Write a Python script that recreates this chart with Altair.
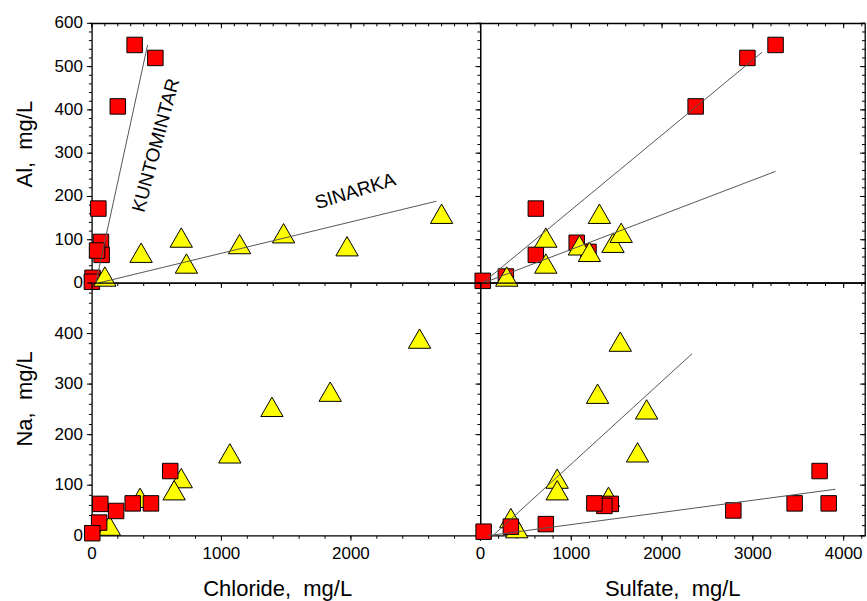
import altair as alt
import pandas as pd

# ---------------- data ----------------
# Top-left: Al vs Chloride
CL_AL_KUN_X = [330, 490, 200, 50, 70, 75, 40, 5, 0]
CL_AL_KUN_Y = [550, 520, 408, 172, 95, 65, 75, 12, 3]
CL_AL_SIN_X = [100, 380, 690, 730, 1140, 1480, 1970, 2700]
CL_AL_SIN_Y = [15, 70, 105, 45, 90, 115, 85, 160]
CL_AL_KUN_LINE_X = [30, 430]
CL_AL_KUN_LINE_Y = [0, 550]
CL_AL_SIN_LINE_X = [50, 2660]
CL_AL_SIN_LINE_Y = [0, 189]

# Top-right: Al vs Sulfate
SO_AL_KUN_X = [3250, 2940, 2370, 610, 610, 1060, 1190, 280, 25]
SO_AL_KUN_Y = [550, 520, 408, 172, 65, 93, 72, 15, 5]
SO_AL_SIN_X = [290, 720, 720, 1310, 1090, 1200, 1460, 1550]
SO_AL_SIN_Y = [15, 105, 45, 160, 87, 72, 93, 116]
SO_AL_KUN_LINE_X = [25, 3100]
SO_AL_KUN_LINE_Y = [0, 533]
SO_AL_SIN_LINE_X = [30, 3250]
SO_AL_SIN_LINE_Y = [0, 258]

# Bottom-left: Na vs Chloride
CL_NA_KUN_X = [605, 456, 315, 187, 65, 56, 3]
CL_NA_KUN_Y = [128, 64, 64, 49, 63, 26, 5]
CL_NA_SIN_X = [2530, 1840, 1390, 1065, 690, 635, 372, 135]
CL_NA_SIN_Y = [390, 285, 255, 163, 114, 90, 75, 20]

# Bottom-right: Na vs Sulfate
SO_NA_KUN_X = [3735, 3835, 3460, 2785, 1435, 1365, 1255, 720, 335, 35]
SO_NA_KUN_Y = [128, 64, 64, 50, 63, 59, 64, 23, 18, 8]
SO_NA_SIN_X = [1540, 1290, 1830, 1730, 845, 845, 1410, 335, 400]
SO_NA_SIN_Y = [384, 281, 250, 165, 113, 90, 77, 35, 15]
SO_NA_KUN_LINE_X = [80, 3910]
SO_NA_KUN_LINE_Y = [0, 92]
SO_NA_SIN_LINE_X = [135, 2330]
SO_NA_SIN_LINE_Y = [0, 360]

# Labels inside the first panel
LABELS = ["KUNTOMINTAR", "SINARKA"]
LABEL_X = [495, 2033]
LABEL_Y = [318, 212]
LABEL_ANGLE = [285, 343]

# Axis titles
TITLE_AL = "Al,\u00a0\u00a0mg/L"
TITLE_NA = "Na,\u00a0\u00a0mg/L"
TITLE_CL = "Chloride,\u00a0\u00a0mg/L"
TITLE_SO = "Sulfate,\u00a0\u00a0mg/L"

FONT = "Liberation Sans"
RED = "#ff0000"
YEL = "#ffff00"
W_L, W_R, H_T, H_B = 389, 385, 260, 253
MAJ, MIN = 5, 3


def ticks(a, b, step):
    return list(range(a, b + 1, step))


def pts(xs, ys):
    return pd.DataFrame({"x": xs, "y": ys})


def lines_df(pairs):
    rows = []
    for i, (lx, ly) in enumerate(pairs):
        for a, b in zip(lx, ly):
            rows.append({"x": a, "y": b, "s": i})
    return pd.DataFrame(rows)


def panel(kun, sin, line_pairs, xdom, ydom, w, h, xmaj, xmin, ymaj, ymin,
          xlabvals, ylabvals, xtitle, ytitle, top_in, right_in, squares_top,
          xtopmin=None, texts=False, zero_rule=False, xtitle_x=None, ytitle_y=None):
    xs = alt.Scale(domain=xdom, nice=False, zero=False)
    ys = alt.Scale(domain=ydom, nice=False, zero=False)

    def X(field):
        return alt.X(field, scale=xs, axis=None)

    def Y(field):
        return alt.Y(field, scale=ys, axis=None)

    def tick_layer(values, channel, side, length):
        base = alt.Chart(pd.DataFrame({"v": values})).mark_rule(color="black",
                                                               strokeWidth=1)
        if channel == "y":
            x0, x1 = (-length, 0) if side == "left" else (w - length, w)
            return base.encode(y=Y("v:Q"), x=alt.value(x0), x2=alt.value(x1))
        y0, y1 = (h, h + length) if side == "bottom" else (0, length)
        return base.encode(x=X("v:Q"), y=alt.value(y0), y2=alt.value(y1))

    layers = [
        tick_layer(ymaj, "y", "left", MAJ),
        tick_layer(ymin, "y", "left", MIN),
        tick_layer(xmaj, "x", "bottom", MAJ),
        tick_layer(xmin, "x", "bottom", MIN),
    ]
    if top_in:
        layers.append(tick_layer(xmaj, "x", "top", MAJ))
        layers.append(tick_layer(xtopmin or xmin, "x", "top", MIN))
    if right_in:
        layers.append(tick_layer(ymaj, "y", "right", MAJ))
        layers.append(tick_layer(ymin, "y", "right", MIN))
    if zero_rule:
        layers.append(alt.Chart(pd.DataFrame({"v": [0]})).mark_rule(
            color="#333333", strokeWidth=2.2).encode(
            y=Y("v:Q"), x=alt.value(0), x2=alt.value(w)))

    txt = dict(font=FONT, color="black")
    if ylabvals:
        layers.append(alt.Chart(pd.DataFrame({"v": ylabvals})).mark_text(
            fontSize=17, align="right", baseline="middle", **txt).encode(
            y=Y("v:Q"), x=alt.value(-9), text=alt.Text("v:Q", format="d")))
    if xlabvals:
        layers.append(alt.Chart(pd.DataFrame({"v": xlabvals})).mark_text(
            fontSize=17, align="center", baseline="middle", **txt).encode(
            x=X("v:Q"), y=alt.value(h + 18), text=alt.Text("v:Q", format="d")))
    if ytitle:
        layers.append(alt.Chart(pd.DataFrame({"t": [ytitle]})).mark_text(
            fontSize=22, align="center", baseline="middle", angle=270, **txt).encode(
            x=alt.value(-67), y=alt.value(ytitle_y if ytitle_y is not None else h / 2),
            text="t:N"))
    if xtitle:
        layers.append(alt.Chart(pd.DataFrame({"t": [xtitle]})).mark_text(
            fontSize=22, align="center", baseline="middle", **txt).encode(
            x=alt.value(xtitle_x if xtitle_x is not None else w / 2),
            y=alt.value(h + 53), text="t:N"))

    enc = dict(x=X("x:Q"), y=Y("y:Q"))
    sq = alt.Chart(pts(*kun)).mark_square(size=240, fill=RED, stroke="black",
                                          strokeWidth=1, opacity=1).encode(**enc)
    tr = alt.Chart(pts(*sin)).mark_point(shape="triangle-up", filled=True, size=500,
                                         fill=YEL, stroke="black", strokeWidth=1,
                                         opacity=1).encode(**enc)
    layers += [tr, sq] if squares_top else [sq, tr]

    if line_pairs:
        layers.append(alt.Chart(lines_df(line_pairs)).mark_line(
            color="#555555", strokeWidth=1).encode(detail="s:N", **enc))
    if texts:
        tdf = pd.DataFrame({"x": LABEL_X, "y": LABEL_Y, "t": LABELS})
        for i in range(len(LABELS)):
            layers.append(alt.Chart(tdf.iloc[[i]]).mark_text(
                font=FONT, fontSize=19, color="black", angle=LABEL_ANGLE[i],
                align="center", baseline="middle").encode(text="t:N", **enc))
    return alt.layer(*layers).properties(width=w, height=h)


CL_DOM = [0, 3000]
SO_DOM = [0, 4235]
AL_DOM = [0, 600]
NA_DOM = [0, 500]

tl = panel((CL_AL_KUN_X, CL_AL_KUN_Y), (CL_AL_SIN_X, CL_AL_SIN_Y),
           [(CL_AL_KUN_LINE_X, CL_AL_KUN_LINE_Y), (CL_AL_SIN_LINE_X, CL_AL_SIN_LINE_Y)],
           CL_DOM, AL_DOM, W_L, H_T, ticks(0, 3000, 1000), ticks(0, 3000, 200),
           ticks(0, 600, 100), ticks(0, 600, 20), None, ticks(0, 600, 100),
           None, TITLE_AL, True, False, False, xtopmin=ticks(0, 3000, 100), texts=True,
           ytitle_y=121)
tr_ = panel((SO_AL_KUN_X, SO_AL_KUN_Y), (SO_AL_SIN_X, SO_AL_SIN_Y),
            [(SO_AL_KUN_LINE_X, SO_AL_KUN_LINE_Y), (SO_AL_SIN_LINE_X, SO_AL_SIN_LINE_Y)],
            SO_DOM, AL_DOM, W_R, H_T, ticks(0, 4000, 1000), ticks(0, 4200, 200),
            ticks(0, 600, 100), ticks(0, 600, 20), None, None,
            None, None, True, True, False, zero_rule=True)
bl = panel((CL_NA_KUN_X, CL_NA_KUN_Y), (CL_NA_SIN_X, CL_NA_SIN_Y), None,
           CL_DOM, NA_DOM, W_L, H_B, ticks(0, 3000, 1000), ticks(0, 3000, 200),
           ticks(0, 500, 100), ticks(0, 500, 20), ticks(0, 2000, 1000), ticks(0, 400, 100),
           TITLE_CL, TITLE_NA, False, False, True, xtitle_x=186, ytitle_y=116)
br = panel((SO_NA_KUN_X, SO_NA_KUN_Y), (SO_NA_SIN_X, SO_NA_SIN_Y),
           [(SO_NA_KUN_LINE_X, SO_NA_KUN_LINE_Y), (SO_NA_SIN_LINE_X, SO_NA_SIN_LINE_Y)],
           SO_DOM, NA_DOM, W_R, H_B, ticks(0, 4000, 1000), ticks(0, 4200, 200),
           ticks(0, 500, 100), ticks(0, 500, 20), ticks(0, 4000, 1000), None,
           TITLE_SO, None, False, True, True)

chart = alt.concat(tl, tr_, bl, br, columns=2, spacing=0, bounds="flush").configure_view(
    stroke="black", strokeWidth=1.3
).properties(
    padding={"left": 13, "top": 13, "right": 0, "bottom": 0},
    background="white",
)

chart.save("out.html", embed_options={"renderer": "svg", "actions": False})
